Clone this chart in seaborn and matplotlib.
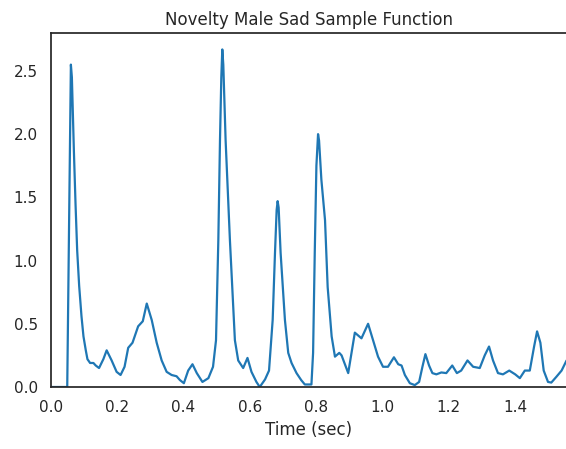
import numpy as np
import pandas as pd
import matplotlib
matplotlib.use("Agg")
import matplotlib.pyplot as plt
import seaborn as sns

title = "Novelty Male Sad Sample Function"
xlabel = "Time (sec)"

time_sec = [0.0, 0.049, 0.055, 0.060, 0.063, 0.069, 0.074, 0.079, 0.085, 0.092, 0.098, 0.105,
            0.110, 0.118, 0.128, 0.135, 0.145, 0.158, 0.168, 0.183, 0.198, 0.210, 0.222,
            0.233, 0.246, 0.263, 0.277, 0.289, 0.304, 0.319, 0.334, 0.349, 0.364, 0.379,
            0.389, 0.401, 0.414, 0.427, 0.440, 0.457, 0.475, 0.489, 0.498, 0.505, 0.510,
            0.514, 0.517, 0.520, 0.527, 0.540, 0.555, 0.565, 0.580, 0.593, 0.605, 0.620,
            0.630, 0.646, 0.658, 0.669, 0.676, 0.681, 0.684, 0.687, 0.693, 0.706, 0.716,
            0.726, 0.741, 0.755, 0.766, 0.786, 0.791, 0.796, 0.801, 0.806, 0.809, 0.816,
            0.827, 0.835, 0.847, 0.857, 0.870, 0.877, 0.897, 0.917, 0.937, 0.957, 0.972,
            0.987, 1.002, 1.017, 1.035, 1.048, 1.058, 1.068, 1.083, 1.098, 1.111, 1.121,
            1.130, 1.141, 1.151, 1.163, 1.178, 1.193, 1.211, 1.225, 1.238, 1.257, 1.274,
            1.294, 1.309, 1.322, 1.334, 1.349, 1.364, 1.383, 1.401, 1.415, 1.430, 1.445,
            1.458, 1.467, 1.477, 1.487, 1.500, 1.510, 1.525, 1.541, 1.556]
novelty = [0.0, 0.0, 1.40, 2.55, 2.45, 1.875, 1.45, 1.08, 0.80, 0.56, 0.40, 0.29,
           0.22, 0.19, 0.19, 0.17, 0.15, 0.22, 0.29, 0.21, 0.12, 0.095, 0.16,
           0.31, 0.35, 0.48, 0.52, 0.66, 0.53, 0.35, 0.21, 0.12, 0.095, 0.085,
           0.055, 0.03, 0.13, 0.18, 0.11, 0.04, 0.07, 0.16, 0.37, 1.16, 1.95,
           2.45, 2.67, 2.55, 1.95, 1.16, 0.37, 0.21, 0.15, 0.23, 0.12, 0.04,
           0.0, 0.06, 0.13, 0.53, 1.06, 1.40, 1.47, 1.42, 1.06, 0.53, 0.27,
           0.19, 0.11, 0.055, 0.02, 0.02, 0.27, 1.06, 1.75, 2.00, 1.95, 1.64,
           1.32, 0.79, 0.40, 0.24, 0.27, 0.25, 0.11, 0.43, 0.385, 0.50, 0.37,
           0.24, 0.16, 0.16, 0.235, 0.18, 0.17, 0.095, 0.03, 0.015, 0.04, 0.16,
           0.26, 0.17, 0.11, 0.10, 0.115, 0.11, 0.17, 0.11, 0.13, 0.21, 0.16,
           0.15, 0.25, 0.32, 0.21, 0.11, 0.10, 0.13, 0.10, 0.07, 0.13, 0.13,
           0.32, 0.44, 0.35, 0.13, 0.04, 0.035, 0.08, 0.13, 0.21]

sns.set_theme(style="white")
plt.rcParams['font.family'] = ['DejaVu Sans']

df = pd.DataFrame({"t": time_sec, "v": novelty})

fig = plt.figure(figsize=(5.66, 4.49), dpi=100)
ax = fig.add_axes([51/566, 1 - 387/449, 1 - 51/566 + 0.001, (387 - 33)/449])
sns.lineplot(data=df, x="t", y="v", ax=ax, color="#1f77b4", linewidth=1.6)
ax.set_xlim(0, 1.556)
ax.set_ylim(0, 2.80)
ax.set_xticks([0.0, 0.2, 0.4, 0.6, 0.8, 1.0, 1.2, 1.4])
ax.set_yticks([0.0, 0.5, 1.0, 1.5, 2.0, 2.5])
ax.set_title(title, fontsize=12)
ax.set_xlabel(xlabel, fontsize=12)
ax.set_ylabel("")
ax.tick_params(labelsize=11)
fig.savefig("out.png", dpi=100)
